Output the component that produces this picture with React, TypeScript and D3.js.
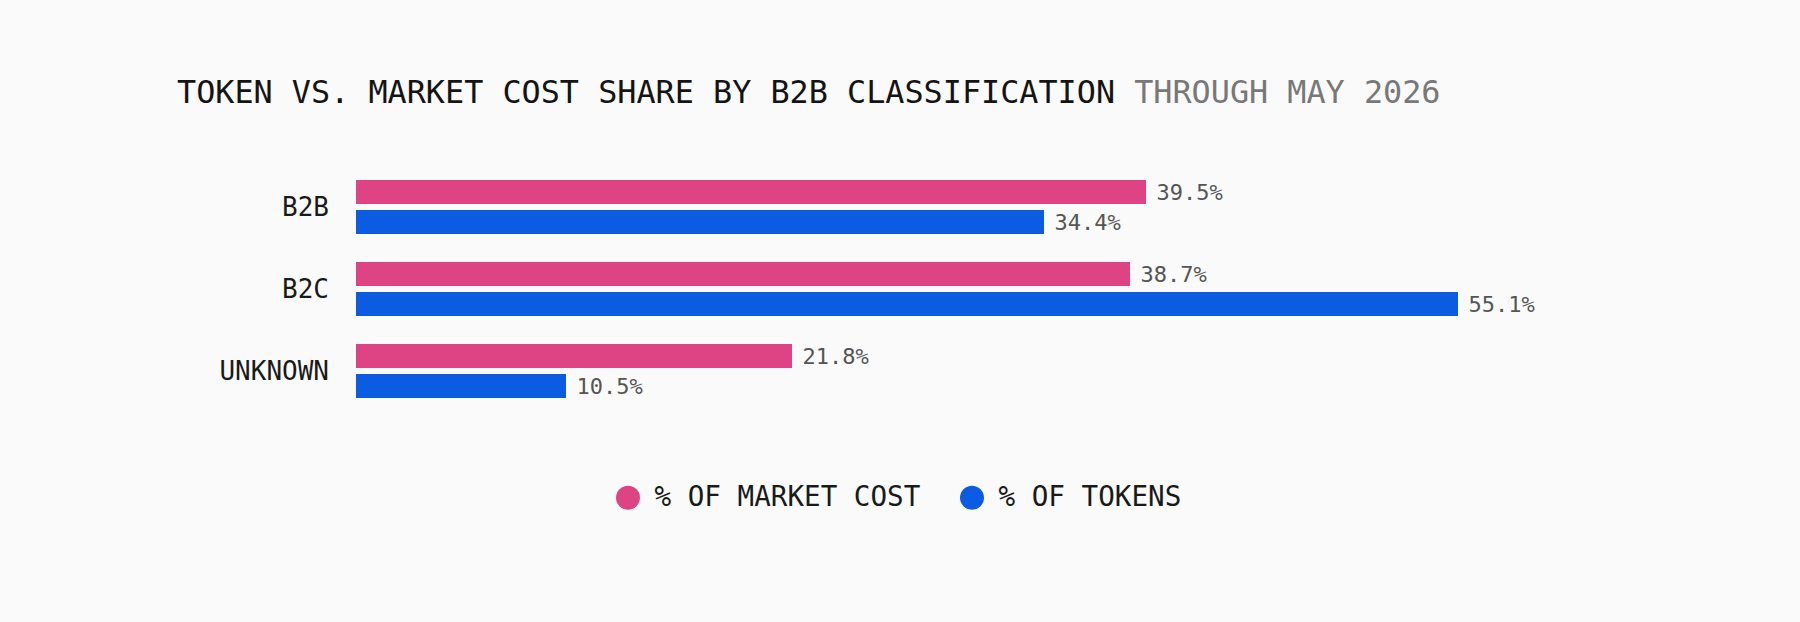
import React from "react";
import * as d3 from "d3";

const categories: string[] = ["B2B", "B2C", "UNKNOWN"];
const seriesNames: string[] = ["% OF MARKET COST", "% OF TOKENS"];
const marketCost: number[] = [39.5, 38.7, 21.8];
const tokens: number[] = [34.4, 55.1, 10.5];
const titleMain = "TOKEN VS. MARKET COST SHARE BY B2B CLASSIFICATION";
const titleSub = "THROUGH MAY 2026";

const W = 1800;
const H = 622;
const FONT = "'DejaVu Sans Mono', 'Liberation Mono', monospace";
const colors: string[] = ["#DE4383", "#0B5CE0"];

export default function App() {
  const values = [marketCost, tokens];
  const x = d3.scaleLinear().domain([0, 60]).range([356, 1556]);
  const y = d3
    .scaleBand<string>()
    .domain(categories)
    .range([166, 412])
    .paddingInner(28 / 82)
    .paddingOuter(14 / 82);
  const ySub = d3
    .scaleBand<string>()
    .domain(seriesNames)
    .range([0, y.bandwidth()])
    .paddingInner(6 / 30);

  const legendItems = seriesNames.map((s, i) => ({ name: s, color: colors[i] }));

  return (
    <>
      <style>{"body{margin:0;background:#fafafa;}"}</style>
      <svg width={W} height={H} style={{ display: "block", background: "#fafafa" }} fontFamily={FONT}>
        <rect x={0} y={0} width={W} height={H} fill="#fafafa" />
        <text x={177} y={102.5} fontSize={31.8} fill="#141414">
          {titleMain}
          <tspan fill="#787878">{" " + titleSub}</tspan>
        </text>

        {categories.map((c, ci) => {
          const gy = y(c) as number;
          return (
            <g key={c}>
              <text
                x={329}
                y={gy + y.bandwidth() / 2 + 9.3}
                fontSize={26}
                textAnchor="end"
                fill="#1a1a1a"
              >
                {c}
              </text>
              {seriesNames.map((s, si) => {
                const v = values[si][ci];
                const by = gy + (ySub(s) as number);
                return (
                  <g key={s}>
                    <rect
                      x={x(0)}
                      y={by}
                      width={x(v) - x(0)}
                      height={ySub.bandwidth()}
                      fill={colors[si]}
                    />
                    <text
                      x={x(v) + 10.5}
                      y={by + ySub.bandwidth() / 2 + 8}
                      fontSize={22}
                      fill="#555555"
                    >
                      {v.toFixed(1) + "%"}
                    </text>
                  </g>
                );
              })}
            </g>
          );
        })}

        <g>
          {legendItems.map((item, i) => {
            const offsets = [616, 960];
            const lx = offsets[i];
            return (
              <g key={item.name}>
                <circle cx={lx + 12} cy={497.7} r={12} fill={item.color} />
                <text x={lx + 38.5} y={506} fontSize={27.6} fill="#1a1a1a">
                  {item.name}
                </text>
              </g>
            );
          })}
        </g>
      </svg>
    </>
  );
}
